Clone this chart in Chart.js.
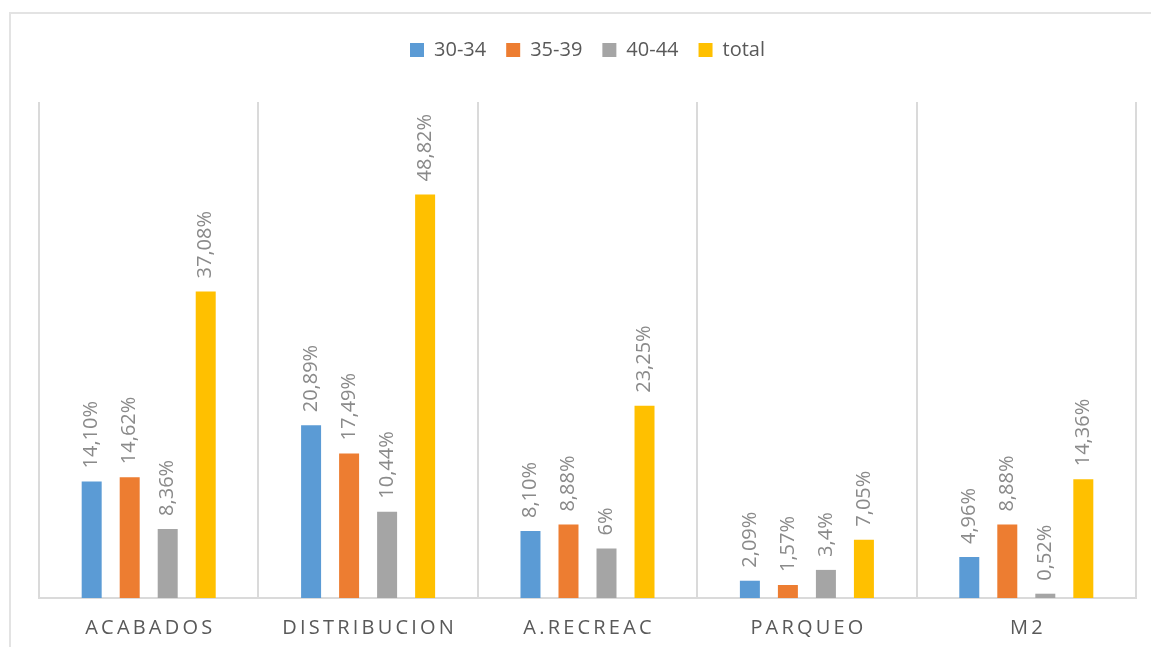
<!DOCTYPE html>
<html>
<head>
<meta charset="utf-8">
<script src="https://cdn.jsdelivr.net/npm/chart.js@4.4.0/dist/chart.umd.min.js"></script>
<style>
  html, body { margin: 0; padding: 0; background: #fff; }
  #wrap { width: 1151px; height: 647px; position: relative; }
</style>
</head>
<body>
<div id="wrap"><canvas id="myChart"></canvas></div>
<script>
const categories = ['ACABADOS', 'DISTRIBUCION', 'A.RECREAC', 'PARQUEO', 'M2'];
const seriesNames = ['30-34', '35-39', '40-44', 'total'];
// percentages as printed on the bars (comma decimals)
const s3034 = ['14,10', '20,89', '8,10', '2,09', '4,96'];
const s3539 = ['14,62', '17,49', '8,88', '1,57', '8,88'];
const s4044 = ['8,36', '10,44', '6', '3,4', '0,52'];
const sTotal = ['37,08', '48,82', '23,25', '7,05', '14,36'];
const colors = ['#5b9bd5', '#ed7d31', '#a5a5a5', '#ffc000'];

const series = [s3034, s3539, s4044, sTotal];
const toNum = s => parseFloat(s.replace(',', '.'));

// extra room between legend and plot
const legendGap = {
  id: 'legendGap',
  beforeLayout(chart) {
    const lg = chart.legend;
    if (!lg || lg._gapPatched) return;
    const fit = lg.fit.bind(lg);
    lg.fit = function () { fit(); this.height += 32; };
    lg._gapPatched = true;
  }
};

const frame = {
  id: 'frame',
  beforeDraw(chart) {
    const ctx = chart.ctx;
    ctx.save();
    ctx.strokeStyle = '#e3e3e3';
    ctx.lineWidth = 2;
    ctx.strokeRect(10, 13, 1200, 700);
    ctx.restore();
  }
};

const valueLabels = {
  id: 'valueLabels',
  afterDatasetsDraw(chart) {
    const ctx = chart.ctx;
    ctx.save();
    ctx.font = '20px "Open Sans"';
    ctx.fillStyle = '#8a8a8a';
    ctx.textAlign = 'left';
    ctx.textBaseline = 'middle';
    chart.data.datasets.forEach((ds, i) => {
      chart.getDatasetMeta(i).data.forEach((bar, j) => {
        ctx.save();
        ctx.translate(bar.x, bar.y - 13);
        ctx.rotate(-Math.PI / 2);
        ctx.fillText(series[i][j] + '%', 0, 0);
        ctx.restore();
      });
    });
    ctx.restore();
  }
};

const categoryLabels = {
  id: 'categoryLabels',
  afterDraw(chart) {
    const ctx = chart.ctx;
    const x = chart.scales.x;
    ctx.save();
    ctx.font = '20px "Open Sans"';
    ctx.fillStyle = '#595959';
    ctx.textAlign = 'center';
    ctx.textBaseline = 'middle';
    ctx.letterSpacing = '3.2px';
    categories.forEach((c, i) => {
      ctx.fillText(c, x.getPixelForValue(i) + 1.6, 628);
    });
    ctx.restore();
  }
};

const ctx = document.getElementById('myChart').getContext('2d');

const chart = new Chart(ctx, {
  type: 'bar',
  data: {
    labels: categories,
    datasets: seriesNames.map((name, i) => ({
      label: name,
      data: series[i].map(toNum),
      backgroundColor: colors[i],
      borderWidth: 0,
      categoryPercentage: 0.693,
      barPercentage: 0.526
    }))
  },
  options: {
    responsive: true,
    maintainAspectRatio: false,
    animation: false,
    layout: { padding: { left: 39, right: 15, top: 20, bottom: 49 } },
    plugins: {
      legend: {
        position: 'top',
        labels: {
          boxWidth: 14,
          boxHeight: 14,
          padding: 20,
          color: '#595959',
          font: { family: 'Open Sans', size: 20 }
        }
      },
      tooltip: { enabled: false }
    },
    scales: {
      x: {
        grid: { offset: true, color: '#dadada', lineWidth: 2, drawTicks: false },
        border: { color: '#dadada', width: 2 },
        ticks: { display: false }
      },
      y: {
        display: false,
        min: 0,
        max: 60
      }
    }
  },
  plugins: [legendGap, frame, valueLabels, categoryLabels]
});
</script>
</body>
</html>
